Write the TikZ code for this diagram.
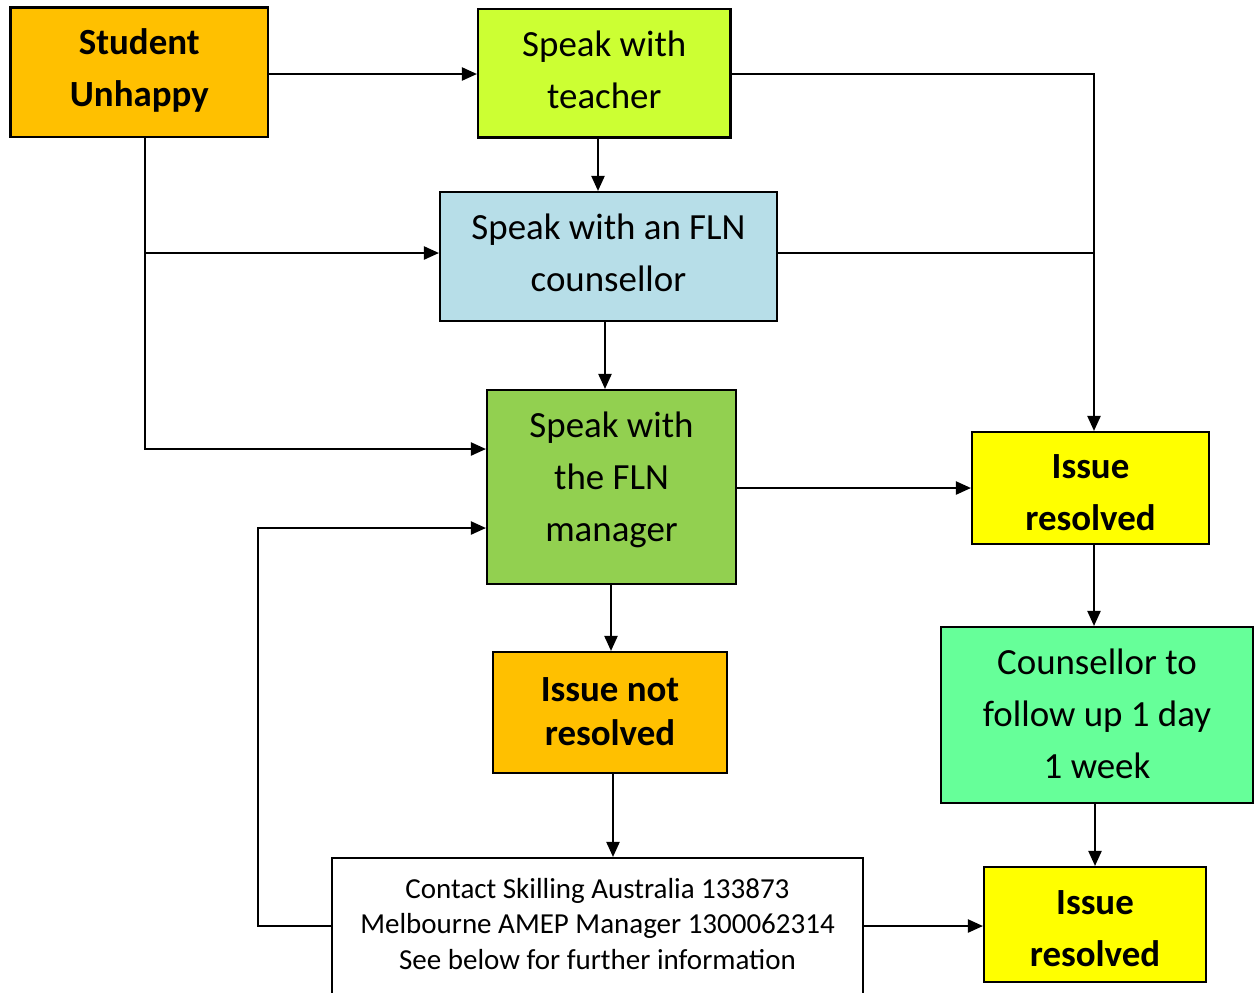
\documentclass[tikz,border=0pt]{standalone}
\usepackage{fontspec}
\setmainfont{Carlito}
\usetikzlibrary{arrows.meta,calc}
\definecolor{cOrange}{HTML}{FFC000}
\definecolor{cLime}{HTML}{CCFF33}
\definecolor{cBlue}{HTML}{B7DEE8}
\definecolor{cGreen}{HTML}{92D050}
\definecolor{cYellow}{HTML}{FFFF00}
\definecolor{cMint}{HTML}{66FF99}
\begin{document}
\begin{tikzpicture}[x=0.02cm,y=-0.02cm,
  box/.style={draw=black,line width=1.2pt,rectangle,inner sep=0pt},
  txt/.style={align=center,inner sep=0pt,font=\fontsize{21}{29.5}\selectfont},
  boldtxt/.style={txt,font=\fontsize{21}{29.5}\selectfont\bfseries},
  arr/.style={line width=1.2pt,-{Triangle[length=0.3cm,width=0.26cm]}},
  ln/.style={line width=1.2pt}]
\useasboundingbox (0,0) rectangle (1254,992);
% boxes
\node[box,fill=cOrange,minimum width=5.15cm,minimum height=2.59cm] (stu) at (139.25,72.25) {};
\node[boldtxt] (stu-t) at (139.25,70.5) {Student\\Unhappy};
\node[box,fill=cLime,minimum width=5.05cm,minimum height=2.57cm] (tea) at (604.25,73.25) {};
\node[txt] (tea-t) at (604.25,70) {Speak with\\teacher};
\node[box,fill=cBlue,minimum width=6.74cm,minimum height=2.58cm] (cou) at (608.5,256.5) {};
\node[txt] (cou-t) at (608.5,252.5) {Speak with an FLN\\counsellor};
\node[box,fill=cGreen,minimum width=4.98cm,minimum height=3.88cm] (man) at (611.5,487) {};
\node[txt] (man-t) at (611.5,480) {Speak with\\the FLN\\manager};
\node[box,fill=cYellow,minimum width=4.74cm,minimum height=2.24cm] (res1) at (1090.5,488) {};
\node[boldtxt] (res1-t) at (1090.5,493) {Issue\\resolved};
\node[box,fill=cMint,minimum width=6.24cm,minimum height=3.52cm] (fol) at (1097,715) {};
\node[txt] (fol-t) at (1097,713.5) {Counsellor to\\follow up 1 day\\1 week};
\node[box,fill=cOrange,minimum width=4.68cm,minimum height=2.42cm] (not) at (610,712.5) {};
\node[boldtxt,font=\fontsize{21}{25}\selectfont\bfseries] (not-t) at (610,711.5) {Issue not\\resolved};
\node[box,fill=white,minimum width=10.62cm,minimum height=3.0cm] (con) at (597.5,933) {};
\node[txt,font=\fontsize{16.5}{20.4}\selectfont] (con-t) at (597.5,924) {Contact Skilling Australia 133873\\Melbourne AMEP Manager 1300062314\\See below for further information};
\node[box,fill=cYellow,minimum width=4.44cm,minimum height=2.3cm] (res2) at (1095,924.5) {};
\node[boldtxt] (res2-t) at (1095,929) {Issue\\resolved};
% helper coordinates
\coordinate (xa) at (598,0);
\coordinate (xb) at (605,0);
\coordinate (xc) at (611,0);
\coordinate (xd) at (613,0);
\coordinate (xe) at (1094,0);
\coordinate (xf) at (1095,0);
\coordinate (xs) at (145,0);
\coordinate (yt) at (0,74);
\coordinate (yc) at (0,253);
\coordinate (ym) at (0,449);
\coordinate (yk) at (0,926);
\coordinate (lp) at (258,528);
% connectors
\draw[arr] (stu.east |- yt) -- (tea.west |- yt);
\draw[arr] (tea.east |- yt) -- (xe |- yt) -- (xe |- res1.north);
\draw[ln] (cou.east |- yc) -- (xe |- yc);
\draw[arr] (tea.south -| xa) -- (cou.north -| xa);
\draw[arr] (stu.south -| xs) -- (xs |- ym) -- (man.west |- ym);
\draw[arr] (xs |- yc) -- (cou.west |- yc);
\draw[arr] (cou.south -| xb) -- (man.north -| xb);
\draw[arr] (man.east |- res1.west) -- (res1.west);
\draw[arr] (con.west |- yk) -- (lp |- yk) -- (lp) -- (lp -| man.west);
\draw[arr] (man.south -| xc) -- (not.north -| xc);
\draw[arr] (not.south -| xd) -- (con.north -| xd);
\draw[arr] (res1.south -| xe) -- (fol.north -| xe);
\draw[arr] (fol.south -| xf) -- (res2.north -| xf);
\draw[arr] (con.east |- yk) -- (res2.west |- yk);
\end{tikzpicture}
\end{document}
